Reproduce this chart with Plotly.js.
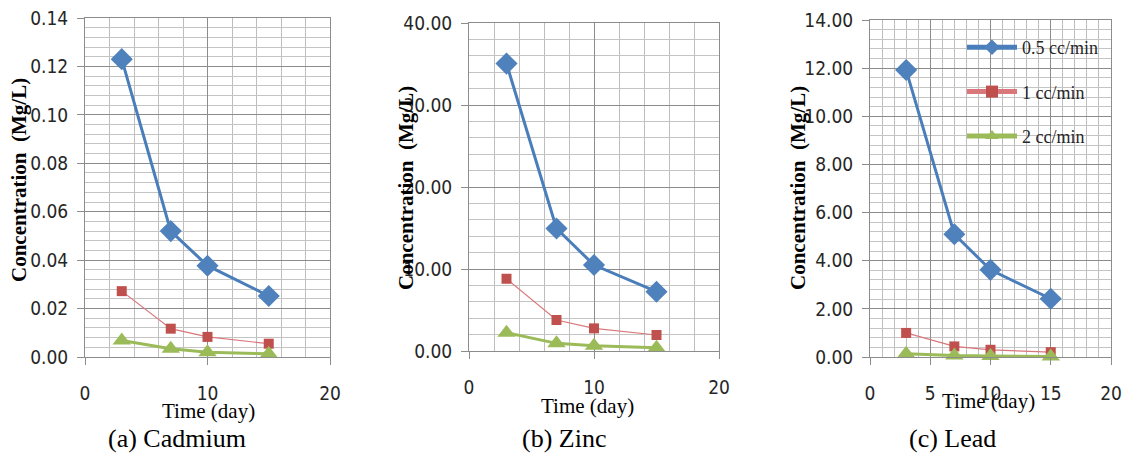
<!DOCTYPE html>
<html>
<head>
<meta charset="utf-8">
<script src="https://cdn.plot.ly/plotly-3.0.1.min.js"></script>
<style>html,body{margin:0;padding:0;background:#fff;}#chart{width:1126px;height:453px;}</style>
</head>
<body>
<div id="chart"></div>
<script>
// ---- data ----
const days = [3, 7, 10, 15];
const seriesNames = ['0.5 cc/min', '1 cc/min', '2 cc/min'];

const cadmium05 = [0.123, 0.052, 0.0377, 0.0252];
const cadmium1  = [0.0272, 0.0117, 0.0083, 0.0055];
const cadmium2  = [0.0068, 0.0034, 0.002, 0.0013];

const zinc05 = [35.05, 14.94, 10.48, 7.23];
const zinc1  = [8.81, 3.78, 2.76, 1.95];
const zinc2  = [2.23, 0.93, 0.65, 0.40];

const lead05 = [11.92, 5.10, 3.62, 2.42];
const lead1  = [1.00, 0.44, 0.30, 0.20];
const lead2  = [0.14, 0.06, 0.04, 0.02];

const captions = ['(a) Cadmium', '(b) Zinc', '(c) Lead'];
const yTitle = 'Concentration  (Mg/L)';
const xTitle = 'Time (day)';

// ---- styles ----
const W = 1126, H = 453;
const colors = ['#4F81BD', '#C0504D', '#9BBB59'];
const lineColors = ['#4A7EBB', '#D9777A', '#9BBB59'];
const lineWidths = [3, 1.2, 3];
const symbols = ['diamond', 'square', 'triangle-up'];
const sizes = [17, 10, 16];
const tickFont = {family: 'Liberation Sans Narrow, DejaVu Sans Condensed, Arial Narrow, sans-serif', size: 19, color: '#262626'};
const serif = 'Liberation Serif, Times New Roman, serif';

const sets = [
  [cadmium05, cadmium1, cadmium2],
  [zinc05, zinc1, zinc2],
  [lead05, lead1, lead2]
];

// pixel geometry of each plot area: [left, right, top, bottom]
const boxes = [
  [85, 330, 18, 357],
  [469, 719, 23, 351],
  [870, 1111, 20, 357]
];
const yCfg = [
  {range: [0, 0.14], dtick: 0.02, minor: 0.004, fmt: '.2f'},
  {range: [0, 40], dtick: 10, minor: 2, fmt: '.2f'},
  {range: [0, 14], dtick: 2, minor: 0.4, fmt: '.2f'}
];
const xCfg = [
  {dtick: 10, minor: 2},
  {dtick: 10, minor: 2},
  {dtick: 5, minor: 1}
];

const traces = [];
const layout = {
  width: W, height: H,
  margin: {l: 0, r: 0, t: 0, b: 0},
  paper_bgcolor: '#fff', plot_bgcolor: '#fff',
  showlegend: true,
  legend: {
    x: 962 / W, y: 1 - 29 / H, xanchor: 'left', yanchor: 'top',
    bgcolor: 'rgba(0,0,0,0)', borderwidth: 0,
    font: {family: serif, size: 18, color: '#262626'},
    itemwidth: 50, traceorder: 'grouped', tracegroupgap: 18,
    itemsizing: 'constant'
  },
  annotations: []
};

for (let p = 0; p < 3; p++) {
  const sfx = p === 0 ? '' : String(p + 1);
  const [l, r, t, b] = boxes[p];
  const xa = {
    domain: [l / W, r / W], range: [0, 20], anchor: 'y' + sfx,
    dtick: xCfg[p].dtick, tick0: 0,
    showgrid: true, gridcolor: '#8c8c8c', gridwidth: 1,
    minor: {dtick: xCfg[p].minor, tick0: 0, showgrid: true, gridcolor: '#bdbdbd', gridwidth: 1, ticks: ''},
    showline: true, linecolor: '#8c8c8c', linewidth: 1, mirror: true,
    ticks: 'outside', ticklen: 7, tickcolor: '#8c8c8c',
    ticklabelstandoff: 12,
    zeroline: false, tickfont: tickFont, fixedrange: true
  };
  const ya = {
    domain: [1 - b / H, 1 - t / H], range: yCfg[p].range, anchor: 'x' + sfx,
    dtick: yCfg[p].dtick, tick0: 0, tickformat: yCfg[p].fmt,
    showgrid: true, gridcolor: '#8c8c8c', gridwidth: 1,
    minor: {dtick: yCfg[p].minor, tick0: 0, showgrid: true, gridcolor: '#c4c4c4', gridwidth: 1, ticks: ''},
    showline: true, linecolor: '#8c8c8c', linewidth: 1, mirror: true,
    ticks: 'outside', ticklen: 7, tickcolor: '#8c8c8c',
    ticklabelstandoff: 5,
    zeroline: false, tickfont: tickFont, fixedrange: true
  };
  layout['xaxis' + sfx] = xa;
  layout['yaxis' + sfx] = ya;

  for (let s = 0; s < 3; s++) {
    traces.push({
      type: 'scatter', mode: 'lines+markers',
      x: days, y: sets[p][s],
      xaxis: 'x' + sfx, yaxis: 'y' + sfx,
      name: seriesNames[s],
      legendgroup: 'g' + s,
      showlegend: p === 2,
      cliponaxis: false,
      line: {color: lineColors[s], width: lineWidths[s]},
      marker: {symbol: symbols[s], size: sizes[s], color: colors[s]}
    });
  }
}

// annotations: axis titles and captions
const yTitlePos = [[19, 180], [406, 188], [798, 188]];
const xTitlePos = [[208, 411], [587, 406], [988, 401]];
const capPos = [[177, 438], [564, 438], [952, 438]];
for (let p = 0; p < 3; p++) {
  layout.annotations.push({
    xref: 'paper', yref: 'paper', x: yTitlePos[p][0] / W, y: 1 - yTitlePos[p][1] / H,
    xanchor: 'center', yanchor: 'middle', showarrow: false, textangle: -90,
    text: '<b>' + yTitle + '</b>', font: {family: serif, size: 21, color: '#000'}
  });
  layout.annotations.push({
    xref: 'paper', yref: 'paper', x: xTitlePos[p][0] / W, y: 1 - xTitlePos[p][1] / H,
    xanchor: 'center', yanchor: 'middle', showarrow: false,
    text: xTitle, font: {family: serif, size: 21, color: '#000'}
  });
  layout.annotations.push({
    xref: 'paper', yref: 'paper', x: capPos[p][0] / W, y: 1 - capPos[p][1] / H,
    xanchor: 'center', yanchor: 'middle', showarrow: false,
    text: captions[p], font: {family: serif, size: 26, color: '#000'}
  });
}

Plotly.newPlot('chart', traces, layout, {displayModeBar: false, staticPlot: true});
</script>
</body>
</html>
